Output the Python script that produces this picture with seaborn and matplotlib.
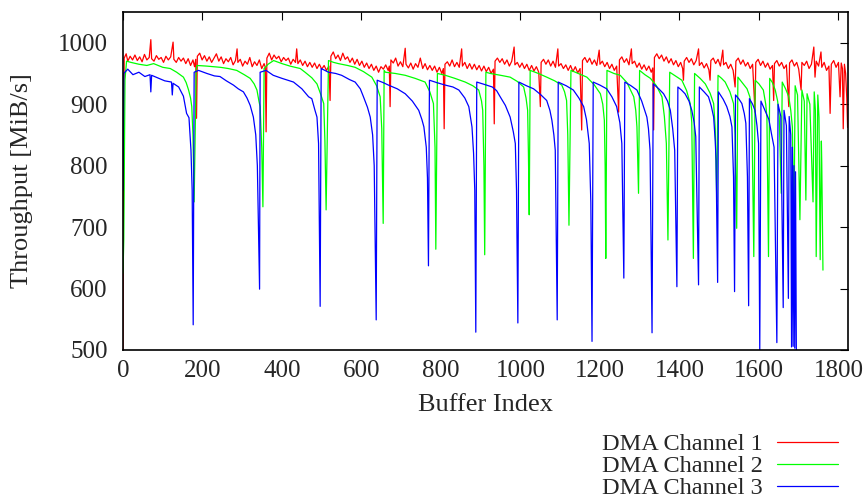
import matplotlib
matplotlib.use("Agg")
import matplotlib.pyplot as plt
import seaborn as sns
import pandas as pd

# ---- DMA throughput per buffer (MiB/s) ----
ch1_x = [0, 1, 3, 8, 12, 18, 24, 30, 36, 42, 48, 54, 60, 66, 70, 72, 78, 84, 90, 96, 102, 108, 114, 120, 126, 128,
         134, 140, 146, 152, 158, 164, 170, 176, 180, 183, 185, 187, 193, 199, 205, 211, 217, 223, 229, 235, 241,
         247, 253, 259, 265, 271, 277, 283, 287, 289, 295, 301, 307, 313, 319, 325, 331, 337, 343, 349, 355, 358,
         360, 362, 368, 374, 380, 386, 392, 398, 404, 410, 416, 422, 428, 434, 437, 440, 446, 452, 458, 464, 470,
         476, 482, 488, 494, 500, 506, 512, 518, 521, 523, 529, 535, 541, 547, 553, 559, 565, 571, 577, 583, 589,
         595, 601, 607, 613, 619, 625, 631, 637, 643, 649, 655, 661, 667, 670, 672, 674, 680, 686, 692, 698, 704,
         710, 712, 718, 724, 730, 736, 742, 748, 754, 760, 766, 772, 778, 784, 790, 796, 802, 806, 808, 810, 816,
         822, 828, 834, 840, 846, 852, 854, 860, 866, 872, 878, 884, 890, 896, 902, 908, 914, 920, 926, 932, 934,
         936, 942, 948, 954, 960, 966, 972, 978, 984, 986, 992, 998, 1004, 1010, 1016, 1022, 1028, 1034, 1040,
         1046, 1050, 1052, 1058, 1064, 1070, 1076, 1082, 1088, 1094, 1096, 1102, 1108, 1114, 1120, 1126, 1132,
         1138, 1144, 1150, 1154, 1156, 1162, 1168, 1174, 1180, 1186, 1192, 1198, 1200, 1206, 1212, 1218, 1224,
         1230, 1236, 1242, 1247, 1249, 1255, 1261, 1267, 1273, 1279, 1281, 1287, 1293, 1299, 1305, 1311, 1317,
         1323, 1329, 1333, 1335, 1337, 1343, 1349, 1355, 1361, 1367, 1373, 1379, 1385, 1391, 1397, 1403, 1408,
         1410, 1412, 1418, 1424, 1430, 1436, 1442, 1448, 1450, 1456, 1462, 1468, 1474, 1477, 1479, 1485, 1491,
         1497, 1503, 1509, 1511, 1517, 1523, 1529, 1535, 1540, 1542, 1548, 1554, 1560, 1566, 1572, 1578, 1584,
         1590, 1592, 1598, 1604, 1610, 1616, 1622, 1628, 1634, 1637, 1639, 1645, 1651, 1657, 1663, 1669, 1675,
         1677, 1683, 1689, 1695, 1700, 1706, 1708, 1714, 1720, 1726, 1732, 1738, 1741, 1744, 1750, 1756, 1758,
         1764, 1770, 1776, 1779, 1782, 1788, 1794, 1800, 1804, 1807, 1810, 1812, 1815, 1818, 1821, 1823]
ch1_y = [480, 720, 975, 982, 970, 978, 972, 980, 971, 977, 969, 981, 972, 976, 1005, 974, 970, 979, 973, 976, 968,
         978, 972, 977, 1001, 973, 968, 976, 970, 975, 966, 974, 963, 972, 961, 973, 877, 978, 983, 972, 979, 970,
         977, 968, 975, 982, 970, 977, 966, 974, 969, 976, 964, 971, 990, 968, 973, 962, 970, 965, 976, 961, 969,
         963, 972, 958, 966, 960, 855, 975, 983, 972, 980, 974, 978, 969, 976, 971, 975, 965, 973, 968, 990, 966,
         972, 963, 970, 961, 968, 960, 967, 958, 965, 957, 963, 955, 962, 906, 978, 985, 974, 980, 971, 983, 973,
         977, 968, 975, 965, 973, 963, 970, 960, 967, 958, 965, 955, 962, 952, 961, 957, 964, 955, 962, 896, 972,
         967, 975, 962, 969, 961, 991, 965, 959, 967, 957, 966, 960, 975, 958, 966, 956, 963, 955, 962, 952, 960,
         950, 958, 860, 965, 969, 962, 972, 961, 968, 960, 990, 962, 968, 958, 966, 957, 965, 956, 963, 954, 962,
         953, 960, 950, 957, 868, 970, 975, 968, 974, 965, 972, 962, 970, 993, 964, 968, 960, 967, 958, 965, 955,
         963, 954, 961, 952, 896, 968, 973, 965, 972, 962, 970, 960, 990, 962, 966, 958, 964, 955, 963, 953, 961,
         951, 958, 858, 971, 976, 968, 975, 965, 972, 963, 988, 965, 970, 961, 968, 958, 965, 955, 962, 887, 972,
         977, 968, 974, 964, 990, 966, 970, 960, 967, 957, 964, 955, 962, 952, 959, 858, 976, 982, 974, 980, 970,
         977, 967, 974, 964, 971, 961, 968, 958, 939, 970, 976, 968, 974, 964, 971, 990, 963, 968, 959, 966, 956,
         939, 971, 975, 966, 973, 962, 988, 964, 968, 958, 965, 955, 928, 970, 975, 965, 972, 962, 968, 958, 965,
         887, 968, 973, 963, 970, 960, 967, 957, 963, 906, 966, 971, 962, 968, 958, 964, 896, 967, 972, 962, 968,
         957, 923, 968, 963, 970, 958, 965, 993, 944, 970, 962, 985, 960, 968, 955, 962, 885, 965, 971, 960, 968,
         912, 967, 958, 860, 965, 950, 909, 862]

ch2_x = [0, 2, 5, 9, 20, 40, 60, 77, 100, 119, 135, 152, 159, 165, 170, 173, 176, 179, 184, 186, 210, 245, 265,
         286, 305, 320, 330, 337, 342, 345, 349, 352, 355, 365, 379, 400, 420, 446, 458, 475, 488, 498, 505, 508,
         511, 517, 530, 542, 565, 584, 605, 626, 638, 647, 651, 654.6, 657, 660, 685, 710, 735, 760, 772, 781, 785,
         787, 791, 811, 835, 861, 880, 895, 902, 905, 908, 910, 913, 924, 950, 974, 992, 1008, 1014, 1018, 1020,
         1022, 1024.4, 1045, 1066, 1086, 1104, 1111, 1116, 1119, 1122, 1127, 1145, 1167, 1185, 1201, 1207, 1211,
         1213, 1214.6, 1217.6, 1235, 1251, 1268, 1285, 1290, 1293, 1297, 1299.7, 1313, 1327, 1342, 1356, 1362,
         1367, 1371, 1375.5, 1394, 1406, 1418, 1427, 1431, 1435, 1438, 1452, 1465, 1477, 1486, 1490, 1494, 1497,
         1506, 1515, 1527, 1536, 1540, 1544, 1547, 1558, 1570, 1577, 1582, 1587, 1590.5, 1600, 1611, 1617, 1620,
         1624, 1627, 1634, 1641, 1647, 1651, 1656, 1658.5, 1667, 1675, 1680, 1684, 1688, 1691, 1697, 1703, 1708,
         1714, 1718, 1721, 1728, 1736, 1739, 1742, 1744, 1748, 1751, 1754, 1757, 1758, 1761]
ch2_y = [625, 680, 940, 970, 968, 965, 963, 966, 960, 958, 952, 944, 935, 923, 910, 896, 850, 741, 955, 963, 962,
         960, 958, 955, 948, 942, 933, 923, 905, 896, 830, 733, 958, 965, 971, 966, 962, 958, 952, 943, 933, 915,
         901, 840, 728, 971, 968, 966, 963, 960, 953, 944, 930, 912, 860, 706, 955, 952, 950, 947, 942, 936, 920,
         901, 830, 664, 950, 947, 942, 936, 930, 923, 905, 890, 800, 655, 952, 950, 947, 944, 937, 928, 910, 890,
         820, 720, 955, 950, 944, 938, 931, 920, 906, 850, 703, 955, 950, 944, 932, 917, 900, 874, 800, 649, 955,
         950, 947, 935, 912, 890, 863, 755, 955, 948, 942, 930, 912, 880, 836, 679, 952, 944, 939, 922, 901, 870,
         649, 950, 942, 933, 918, 901, 860, 741, 947, 942, 936, 920, 901, 850, 698, 944, 935, 925, 912, 890, 652,
         939, 933, 923, 900, 879, 652, 942, 935, 923, 905, 879, 755, 936, 925, 912, 890, 863, 700, 930, 915, 712,
         923, 905, 744, 917, 900, 741, 920, 890, 652, 915, 879, 647, 840, 804, 630]

ch3_x = [0, 2, 12, 25, 40, 55, 68, 70, 72, 90, 105, 122, 124, 126, 140, 152, 160, 166, 171, 174, 176.6, 179, 190,
         211, 230, 244, 260, 278, 290, 303, 312, 320, 328, 334, 338, 343.6, 345, 360, 378, 400, 429, 450, 467, 475,
         483, 488, 492, 496, 498.6, 517, 535, 550, 570, 584, 597, 605, 615, 622, 628, 632, 637, 639.5, 655, 668,
         690, 710, 728, 744, 752, 757, 763, 766, 768.5, 771, 790, 811, 830, 845, 860, 870, 878, 882, 885, 887.6,
         890, 910, 929, 940, 949, 962, 974, 982, 987, 990, 993.4, 996, 1015, 1033, 1050, 1066, 1074, 1079, 1084,
         1087.5, 1092.4, 1095, 1115, 1133, 1147, 1159, 1166, 1173, 1177, 1180, 1183, 1200, 1217, 1230, 1242, 1250,
         1255, 1260, 1262.5, 1278, 1293, 1305, 1318, 1322, 1326, 1331, 1334, 1348, 1360, 1370, 1377, 1383, 1388,
         1393.5, 1396, 1405, 1414, 1424, 1431, 1437, 1441, 1448, 1450, 1462, 1473, 1480, 1486, 1490, 1492, 1496,
         1498, 1510, 1519, 1527, 1532, 1536, 1538.6, 1541, 1550, 1557, 1563, 1567, 1571, 1574, 1576, 1584, 1590,
         1595, 1599, 1602, 1605, 1615, 1625, 1632, 1638, 1645, 1648, 1655, 1661, 1663, 1669, 1674, 1676, 1680,
         1682, 1684, 1686, 1688, 1690, 1692, 1694]
ch3_y = [760, 950, 957, 948, 952, 945, 948, 920, 947, 942, 938, 936, 915, 934, 928, 913, 885, 878, 825, 760, 541,
         952, 955, 950, 946, 945, 938, 931, 925, 920, 910, 898, 879, 850, 800, 599, 952, 955, 947, 942, 936, 925,
         912, 909, 890, 879, 836, 571, 958, 952, 950, 947, 940, 936, 925, 912, 895, 879, 850, 800, 549, 939, 935,
         931, 925, 917, 905, 890, 875, 863, 830, 780, 637, 939, 935, 931, 928, 923, 910, 896, 863, 820, 760, 529,
         936, 932, 928, 922, 912, 898, 879, 855, 836, 760, 544, 936, 930, 925, 916, 906, 890, 874, 850, 825, 549,
         936, 930, 923, 910, 896, 875, 836, 740, 514, 936, 931, 925, 912, 896, 870, 836, 617, 936, 930, 923, 905,
         879, 860, 825, 528, 933, 925, 917, 905, 890, 860, 825, 603, 928, 923, 917, 905, 890, 870, 847, 606, 928,
         920, 912, 897, 879, 840, 809, 610, 920, 908, 896, 880, 863, 782, 595, 915, 908, 901, 885, 869, 782, 572,
         909, 900, 890, 865, 836, 498, 905, 890, 875, 850, 830, 512, 900, 880, 569, 890, 865, 584, 880, 850, 505,
         830, 506, 800, 503, 790, 500]

series_names = ["DMA Channel 1", "DMA Channel 2", "DMA Channel 3"]
series_colors = ["#ff0000", "#00ff00", "#0000ff"]
x_ticks = [0, 200, 400, 600, 800, 1000, 1200, 1400, 1600, 1800]
y_ticks = [500, 600, 700, 800, 900, 1000]

df = pd.concat([
    pd.DataFrame({"Buffer Index": ch1_x, "Throughput": ch1_y, "Channel": series_names[0]}),
    pd.DataFrame({"Buffer Index": ch2_x, "Throughput": ch2_y, "Channel": series_names[1]}),
    pd.DataFrame({"Buffer Index": ch3_x, "Throughput": ch3_y, "Channel": series_names[2]}),
], ignore_index=True)

sns.set_style("white")
plt.rcParams["font.family"] = ["Liberation Serif", "DejaVu Serif"]

LABEL_FS = 19
TICK_FS = 18
LEGEND_FS = 17.5

fig = plt.figure(figsize=(8.67, 5.0), dpi=100)
ax = fig.add_axes([123 / 867, 1 - 350 / 500, (848 - 123) / 867, (350 - 12) / 500])

sns.lineplot(data=df, x="Buffer Index", y="Throughput", hue="Channel",
             hue_order=series_names, palette=series_colors,
             estimator=None, sort=False, linewidth=0.9, ax=ax)

ax.set_xlim(0, 1824)
ax.set_ylim(500, 1050)
ax.set_xticks(x_ticks)
ax.set_yticks(y_ticks)
ax.set_xlabel("Buffer Index", fontsize=LABEL_FS, labelpad=9)
ax.set_ylabel("Throughput [MiB/s]", fontsize=LABEL_FS, labelpad=18)
ax.tick_params(direction="in", length=6, width=0.8, top=True, right=True,
               labelsize=TICK_FS, color="black")
ax.tick_params(axis="y", pad=11)
ax.tick_params(axis="x", pad=7)
for s in ax.spines.values():
    s.set_visible(True)
    s.set_color("black")
    s.set_linewidth(1.2)

handles, labels = ax.get_legend_handles_labels()
ax.legend(handles, labels, loc="upper right", bbox_to_anchor=(838 / 867, 1 - 433 / 500),
          bbox_transform=fig.transFigure, frameon=False, markerfirst=False,
          handlelength=2.5, handletextpad=0.6, labelspacing=0.0, borderpad=0,
          borderaxespad=0, fontsize=LEGEND_FS)

fig.savefig("out.png", dpi=100)
